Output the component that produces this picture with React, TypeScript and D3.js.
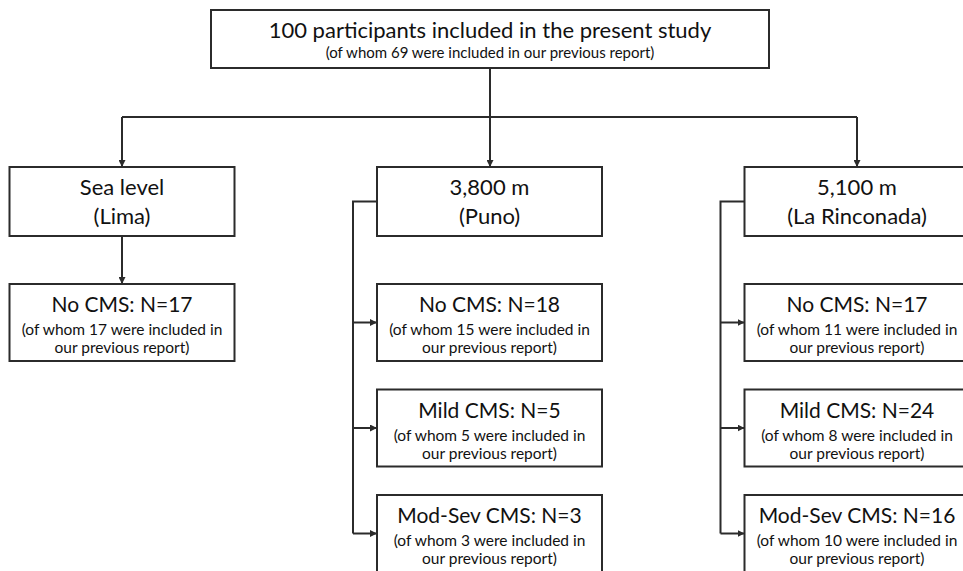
import React, { useEffect, useRef } from "react";
import * as d3 from "d3";

const topTitle = "100 participants included in the present study";
const topSub = "(of whom 69 were included in our previous report)";

const sites = ["Sea level", "3,800 m", "5,100 m"];
const siteNames = ["(Lima)", "(Puno)", "(La Rinconada)"];

const groups = ["No CMS", "Mild CMS", "Mod-Sev CMS"];
// N per group for each site (null = group not studied at that site)
const nLima = [17, null, null];
const nPuno = [18, 5, 3];
const nRinconada = [17, 24, 16];
// participants also in previous report
const prevLima = [17, null, null];
const prevPuno = [15, 5, 3];
const prevRinconada = [11, 8, 10];

const width = 963;
const height = 571;

function Flowchart() {
  const ref = useRef<SVGSVGElement>(null);

  useEffect(() => {
    drawChart();
  }, []);

  function drawChart() {
    const svg = d3.select(ref.current);
    svg.selectAll("*").remove();

    const ink = "#2b2b2b";
    const font = "Lato, 'Open Sans', sans-serif";
    const boxW = 225;

    const xScale = d3.scalePoint<string>().domain(sites).range([122, 857]);
    const rowY = d3.scaleLinear().domain([0, 2]).range([284, 495]);
    const groupH = 77;

    svg
      .append("defs")
      .append("marker")
      .attr("id", "arrow")
      .attr("viewBox", "0 0 10 10")
      .attr("refX", 10)
      .attr("refY", 5)
      .attr("markerWidth", 7)
      .attr("markerHeight", 7)
      .attr("markerUnits", "userSpaceOnUse")
      .attr("orient", "auto")
      .append("path")
      .attr("d", "M0,0L10,5L0,10Z")
      .attr("fill", ink);

    const g = svg.append("g");

    const box = (x: number, y: number, w: number, h: number) =>
      g
        .append("rect")
        .attr("x", x)
        .attr("y", y)
        .attr("width", w)
        .attr("height", h)
        .attr("fill", "#fff")
        .attr("stroke", ink)
        .attr("stroke-width", 2);

    const text = (x: number, y: number, s: string, size: number) =>
      g
        .append("text")
        .attr("x", x)
        .attr("y", y)
        .attr("text-anchor", "middle")
        .attr("font-family", font)
        .attr("font-size", size)
        .attr("fill", "#111")
        .text(s);

    const line = (pts: [number, number][], arrow: boolean) =>
      g
        .append("path")
        .attr("d", d3.line()(pts))
        .attr("fill", "none")
        .attr("stroke", ink)
        .attr("stroke-width", 2)
        .attr("marker-end", arrow ? "url(#arrow)" : null);

    // top box
    const topX0 = 211,
      topX1 = 769,
      topY0 = 10,
      topY1 = 68;
    const cx = (topX0 + topX1) / 2;
    const splitY = 117;
    const siteY0 = 167,
      siteY1 = 236;

    line([[cx, topY1], [cx, siteY0]], true);
    line([[xScale(sites[0])!, splitY], [xScale(sites[2])!, splitY]], false);
    line([[xScale(sites[0])!, splitY], [xScale(sites[0])!, siteY0]], true);
    line([[xScale(sites[2])!, splitY], [xScale(sites[2])!, siteY0]], true);

    box(topX0, topY0, topX1 - topX0, topY1 - topY0);
    text(cx, 38, topTitle, 22);
    text(cx, 58, topSub, 15);

    const counts = [nLima, nPuno, nRinconada];
    const prev = [prevLima, prevPuno, prevRinconada];

    sites.forEach((site, i) => {
      const sx = xScale(site)!;
      const x0 = sx - boxW / 2;
      const active = counts[i]
        .map((n, j) => ({ n, j, p: prev[i][j] }))
        .filter((d) => d.n !== null);

      if (active.length === 1) {
        line([[sx, siteY1], [sx, rowY(0)]], true);
      } else {
        const bx = x0 - 24;
        const midY = (siteY0 + siteY1) / 2;
        const lastY = rowY(active[active.length - 1].j) + groupH / 2;
        line([[x0, midY], [bx, midY], [bx, lastY]], false);
        active.forEach((d) => {
          const yy = rowY(d.j) + groupH / 2;
          line([[bx, yy], [x0, yy]], true);
        });
      }

      box(x0, siteY0, boxW, siteY1 - siteY0);
      text(sx, 195, site, 22);
      text(sx, 224, siteNames[i], 22);

      active.forEach((d) => {
        const y0 = rowY(d.j);
        box(x0, y0, boxW, groupH);
        text(sx, y0 + 28, `${groups[d.j]}: N=${d.n}`, 21);
        text(sx, y0 + 51, `(of whom ${d.p} were included in`, 15.5);
        text(sx, y0 + 69, "our previous report)", 15.5);
      });
    });
  }

  return (
    <svg
      ref={ref}
      width={width}
      height={height}
      style={{ position: "absolute", left: 0, top: 0, background: "#fff" }}
    />
  );
}

export default function App() {
  return <Flowchart />;
}
